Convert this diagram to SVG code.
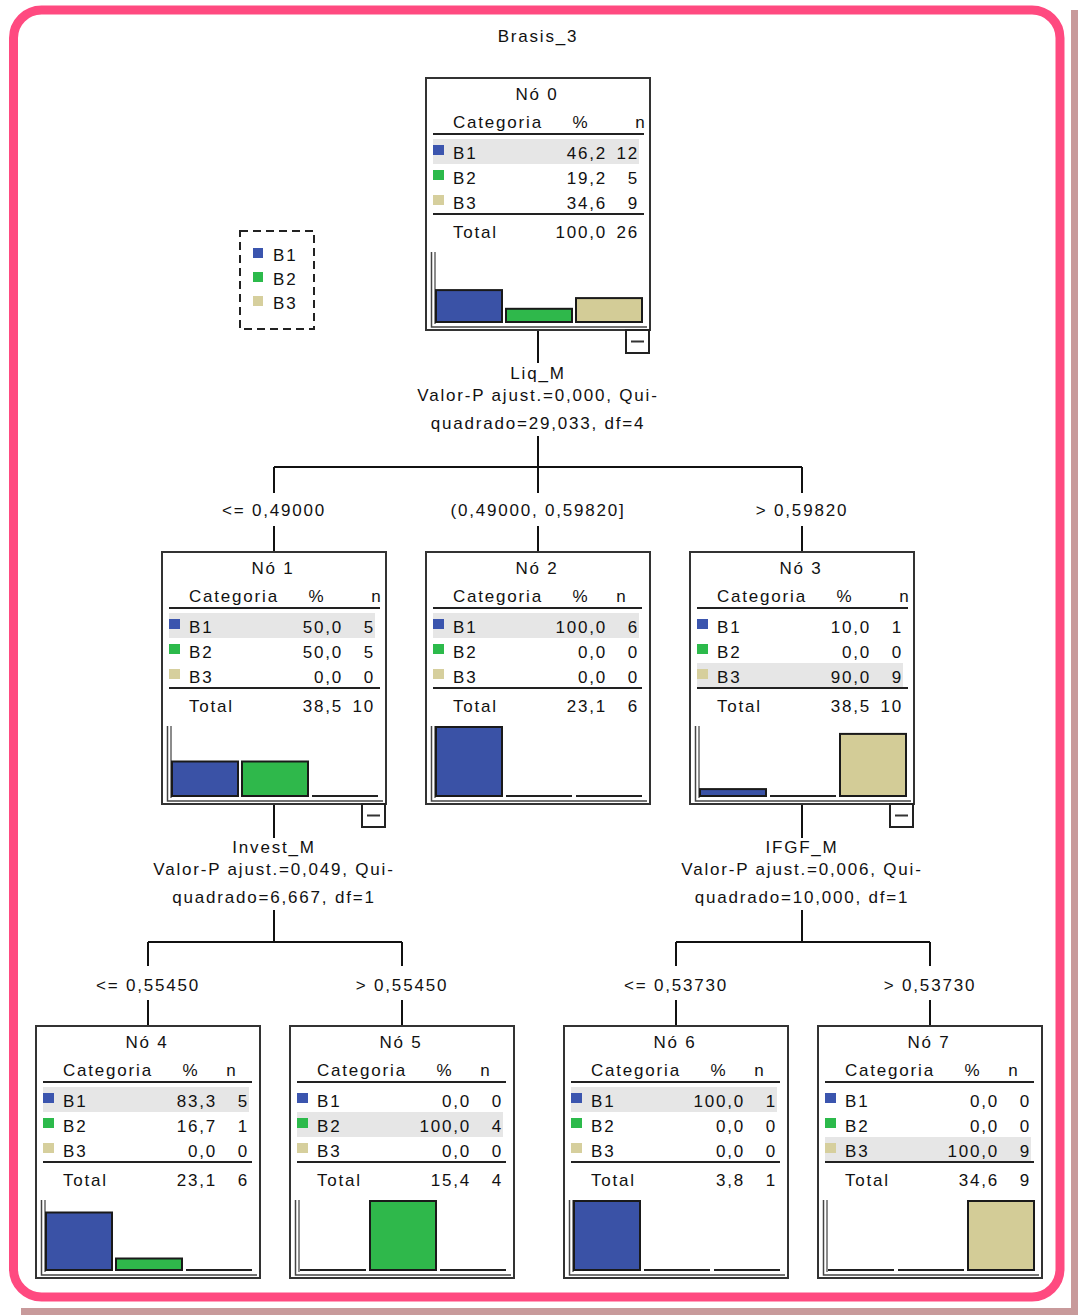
<svg xmlns="http://www.w3.org/2000/svg" width="1078" height="1315" viewBox="0 0 1078 1315">
<style>
.t{font-family:"Liberation Sans",Arial,sans-serif;font-size:17px;letter-spacing:1.8px;fill:#111}
.m{text-anchor:middle}
.e{text-anchor:end}
.box{fill:#fff;stroke:#333;stroke-width:2}
.hl{stroke:#222;stroke-width:2}
.hi{fill:#e6e6e6}
.c1{fill:#3b55ae}
.c2{fill:#2cba4b}
.c3{fill:#d6cf9d}
.b1{fill:#3a52a6;stroke:#1a1a1a;stroke-width:2}
.b2{fill:#2fb84b;stroke:#1a1a1a;stroke-width:2}
.b3{fill:#d3cc97;stroke:#1a1a1a;stroke-width:2}
.ax{fill:none;stroke:#444;stroke-width:1.5}
.ax2{fill:none;stroke:#666;stroke-width:1.5}
.el{stroke:#333;stroke-width:2}
.cb{fill:#fff;stroke:#222;stroke-width:2}
.cn{fill:none;stroke:#111;stroke-width:2}
</style>
<rect x="1071" y="10" width="7" height="1305" fill="#c89a9b"/>
<rect x="21" y="1308" width="1057" height="7" fill="#c89a9b"/>
<rect x="13.5" y="10" width="1046.5" height="1287" rx="28" fill="#fff" stroke="#ff4a80" stroke-width="9"/>
<text class="t m" x="538" y="42">Brasis_3</text>
<g id="legend">
<rect x="240" y="231" width="74" height="98" fill="none" stroke="#222" stroke-width="2" stroke-dasharray="8,5"/>
<rect class="c1" x="253" y="248" width="10" height="10"/>
<text class="t" x="273" y="261">B1</text>
<rect class="c2" x="253" y="272" width="10" height="10"/>
<text class="t" x="273" y="285">B2</text>
<rect class="c3" x="253" y="296" width="10" height="10"/>
<text class="t" x="273" y="309">B3</text>
</g>
<g id="connectors">
<path class="cn" d="M538 330V363M538 436V467M274 467H802M274 467V493M538 467V493M802 467V493M274 526V552M538 526V552M802 526V552"/>
<path class="cn" d="M274 804V838M274 910V942M148 942H402M148 942V966M402 942V966M148 1000V1026M402 1000V1026"/>
<path class="cn" d="M802 804V838M802 910V942M676 942H930M676 942V966M930 942V966M676 1000V1026M930 1000V1026"/>
<text class="t m" x="538" y="379">Liq_M</text>
<text class="t m" x="538" y="401">Valor-P ajust.=0,000, Qui-</text>
<text class="t m" x="538" y="429">quadrado=29,033, df=4</text>
<text class="t m" x="274" y="516">&lt;= 0,49000</text>
<text class="t m" x="538" y="516">(0,49000, 0,59820]</text>
<text class="t m" x="802" y="516">&gt; 0,59820</text>
<text class="t m" x="274" y="853">Invest_M</text>
<text class="t m" x="274" y="875">Valor-P ajust.=0,049, Qui-</text>
<text class="t m" x="274" y="903">quadrado=6,667, df=1</text>
<text class="t m" x="148" y="991">&lt;= 0,55450</text>
<text class="t m" x="402" y="991">&gt; 0,55450</text>
<text class="t m" x="802" y="853">IFGF_M</text>
<text class="t m" x="802" y="875">Valor-P ajust.=0,006, Qui-</text>
<text class="t m" x="802" y="903">quadrado=10,000, df=1</text>
<text class="t m" x="676" y="991">&lt;= 0,53730</text>
<text class="t m" x="930" y="991">&gt; 0,53730</text>
</g>

<g id="node0" transform="translate(426,78)">
<rect class="box" x="0" y="0" width="224" height="252"/>
<text class="t m" x="111" y="22">Nó 0</text>
<text class="t" x="27" y="50">Categoria</text><text class="t m" x="155" y="50">%</text><text class="t m" x="215" y="50">n</text>
<line class="hl" x1="7" y1="56" x2="218" y2="56"/>
<rect class="hi" x="7" y="61" width="206" height="25"/>
<rect class="c1" x="7" y="67" width="11" height="10"/><text class="t" x="27" y="81">B1</text><text class="t e" x="181" y="81">46,2</text><text class="t e" x="213" y="81">12</text>
<rect class="c2" x="7" y="92" width="11" height="10"/><text class="t" x="27" y="106">B2</text><text class="t e" x="181" y="106">19,2</text><text class="t e" x="213" y="106">5</text>
<rect class="c3" x="7" y="117" width="11" height="10"/><text class="t" x="27" y="131">B3</text><text class="t e" x="181" y="131">34,6</text><text class="t e" x="213" y="131">9</text>
<line class="hl" x1="7" y1="136" x2="218" y2="136"/>
<text class="t" x="27" y="160">Total</text><text class="t e" x="181" y="160">100,0</text><text class="t e" x="213" y="160">26</text>
<path class="ax" d="M5.5 174V249H221"/><path class="ax2" d="M9 174V246"/>
<rect class="b1" x="10" y="212.1" width="66" height="31.9"/>
<rect class="b2" x="80" y="230.8" width="66" height="13.2"/>
<rect class="b3" x="150" y="220.1" width="66" height="23.9"/>
<rect class="cb" x="200" y="252" width="23" height="23"/><line class="el" x1="205" y1="263.5" x2="218" y2="263.5"/>
</g>

<g id="node1" transform="translate(162,552)">
<rect class="box" x="0" y="0" width="224" height="252"/>
<text class="t m" x="111" y="22">Nó 1</text>
<text class="t" x="27" y="50">Categoria</text><text class="t m" x="155" y="50">%</text><text class="t m" x="215" y="50">n</text>
<line class="hl" x1="7" y1="56" x2="218" y2="56"/>
<rect class="hi" x="7" y="61" width="206" height="25"/>
<rect class="c1" x="7" y="67" width="11" height="10"/><text class="t" x="27" y="81">B1</text><text class="t e" x="181" y="81">50,0</text><text class="t e" x="213" y="81">5</text>
<rect class="c2" x="7" y="92" width="11" height="10"/><text class="t" x="27" y="106">B2</text><text class="t e" x="181" y="106">50,0</text><text class="t e" x="213" y="106">5</text>
<rect class="c3" x="7" y="117" width="11" height="10"/><text class="t" x="27" y="131">B3</text><text class="t e" x="181" y="131">0,0</text><text class="t e" x="213" y="131">0</text>
<line class="hl" x1="7" y1="136" x2="218" y2="136"/>
<text class="t" x="27" y="160">Total</text><text class="t e" x="181" y="160">38,5</text><text class="t e" x="213" y="160">10</text>
<path class="ax" d="M5.5 174V249H221"/><path class="ax2" d="M9 174V246"/>
<rect class="b1" x="10" y="209.5" width="66" height="34.5"/>
<rect class="b2" x="80" y="209.5" width="66" height="34.5"/>
<line class="hl" x1="150" y1="244" x2="216" y2="244"/>
<rect class="cb" x="200" y="252" width="23" height="23"/><line class="el" x1="205" y1="263.5" x2="218" y2="263.5"/>
</g>

<g id="node2" transform="translate(426,552)">
<rect class="box" x="0" y="0" width="224" height="252"/>
<text class="t m" x="111" y="22">Nó 2</text>
<text class="t" x="27" y="50">Categoria</text><text class="t m" x="155" y="50">%</text><text class="t m" x="196" y="50">n</text>
<line class="hl" x1="7" y1="56" x2="216" y2="56"/>
<rect class="hi" x="7" y="61" width="206" height="25"/>
<rect class="c1" x="7" y="67" width="11" height="10"/><text class="t" x="27" y="81">B1</text><text class="t e" x="181" y="81">100,0</text><text class="t e" x="213" y="81">6</text>
<rect class="c2" x="7" y="92" width="11" height="10"/><text class="t" x="27" y="106">B2</text><text class="t e" x="181" y="106">0,0</text><text class="t e" x="213" y="106">0</text>
<rect class="c3" x="7" y="117" width="11" height="10"/><text class="t" x="27" y="131">B3</text><text class="t e" x="181" y="131">0,0</text><text class="t e" x="213" y="131">0</text>
<line class="hl" x1="7" y1="136" x2="216" y2="136"/>
<text class="t" x="27" y="160">Total</text><text class="t e" x="181" y="160">23,1</text><text class="t e" x="213" y="160">6</text>
<path class="ax" d="M5.5 174V249H221"/><path class="ax2" d="M9 174V246"/>
<rect class="b1" x="10" y="175" width="66" height="69"/>
<line class="hl" x1="80" y1="244" x2="146" y2="244"/>
<line class="hl" x1="150" y1="244" x2="216" y2="244"/>
</g>

<g id="node3" transform="translate(690,552)">
<rect class="box" x="0" y="0" width="224" height="252"/>
<text class="t m" x="111" y="22">Nó 3</text>
<text class="t" x="27" y="50">Categoria</text><text class="t m" x="155" y="50">%</text><text class="t m" x="215" y="50">n</text>
<line class="hl" x1="7" y1="56" x2="218" y2="56"/>
<rect class="hi" x="7" y="111" width="206" height="25"/>
<rect class="c1" x="7" y="67" width="11" height="10"/><text class="t" x="27" y="81">B1</text><text class="t e" x="181" y="81">10,0</text><text class="t e" x="213" y="81">1</text>
<rect class="c2" x="7" y="92" width="11" height="10"/><text class="t" x="27" y="106">B2</text><text class="t e" x="181" y="106">0,0</text><text class="t e" x="213" y="106">0</text>
<rect class="c3" x="7" y="117" width="11" height="10"/><text class="t" x="27" y="131">B3</text><text class="t e" x="181" y="131">90,0</text><text class="t e" x="213" y="131">9</text>
<line class="hl" x1="7" y1="136" x2="218" y2="136"/>
<text class="t" x="27" y="160">Total</text><text class="t e" x="181" y="160">38,5</text><text class="t e" x="213" y="160">10</text>
<path class="ax" d="M5.5 174V249H221"/><path class="ax2" d="M9 174V246"/>
<rect class="b1" x="10" y="237.1" width="66" height="6.9"/>
<line class="hl" x1="80" y1="244" x2="146" y2="244"/>
<rect class="b3" x="150" y="181.9" width="66" height="62.1"/>
<rect class="cb" x="200" y="252" width="23" height="23"/><line class="el" x1="205" y1="263.5" x2="218" y2="263.5"/>
</g>

<g id="node4" transform="translate(36,1026)">
<rect class="box" x="0" y="0" width="224" height="252"/>
<text class="t m" x="111" y="22">Nó 4</text>
<text class="t" x="27" y="50">Categoria</text><text class="t m" x="155" y="50">%</text><text class="t m" x="196" y="50">n</text>
<line class="hl" x1="7" y1="56" x2="216" y2="56"/>
<rect class="hi" x="7" y="61" width="206" height="25"/>
<rect class="c1" x="7" y="67" width="11" height="10"/><text class="t" x="27" y="81">B1</text><text class="t e" x="181" y="81">83,3</text><text class="t e" x="213" y="81">5</text>
<rect class="c2" x="7" y="92" width="11" height="10"/><text class="t" x="27" y="106">B2</text><text class="t e" x="181" y="106">16,7</text><text class="t e" x="213" y="106">1</text>
<rect class="c3" x="7" y="117" width="11" height="10"/><text class="t" x="27" y="131">B3</text><text class="t e" x="181" y="131">0,0</text><text class="t e" x="213" y="131">0</text>
<line class="hl" x1="7" y1="136" x2="216" y2="136"/>
<text class="t" x="27" y="160">Total</text><text class="t e" x="181" y="160">23,1</text><text class="t e" x="213" y="160">6</text>
<path class="ax" d="M5.5 174V249H221"/><path class="ax2" d="M9 174V246"/>
<rect class="b1" x="10" y="186.5" width="66" height="57.5"/>
<rect class="b2" x="80" y="232.5" width="66" height="11.5"/>
<line class="hl" x1="150" y1="244" x2="216" y2="244"/>
</g>

<g id="node5" transform="translate(290,1026)">
<rect class="box" x="0" y="0" width="224" height="252"/>
<text class="t m" x="111" y="22">Nó 5</text>
<text class="t" x="27" y="50">Categoria</text><text class="t m" x="155" y="50">%</text><text class="t m" x="196" y="50">n</text>
<line class="hl" x1="7" y1="56" x2="216" y2="56"/>
<rect class="hi" x="7" y="86" width="206" height="25"/>
<rect class="c1" x="7" y="67" width="11" height="10"/><text class="t" x="27" y="81">B1</text><text class="t e" x="181" y="81">0,0</text><text class="t e" x="213" y="81">0</text>
<rect class="c2" x="7" y="92" width="11" height="10"/><text class="t" x="27" y="106">B2</text><text class="t e" x="181" y="106">100,0</text><text class="t e" x="213" y="106">4</text>
<rect class="c3" x="7" y="117" width="11" height="10"/><text class="t" x="27" y="131">B3</text><text class="t e" x="181" y="131">0,0</text><text class="t e" x="213" y="131">0</text>
<line class="hl" x1="7" y1="136" x2="216" y2="136"/>
<text class="t" x="27" y="160">Total</text><text class="t e" x="181" y="160">15,4</text><text class="t e" x="213" y="160">4</text>
<path class="ax" d="M5.5 174V249H221"/><path class="ax2" d="M9 174V246"/>
<line class="hl" x1="10" y1="244" x2="76" y2="244"/>
<rect class="b2" x="80" y="175" width="66" height="69"/>
<line class="hl" x1="150" y1="244" x2="216" y2="244"/>
</g>

<g id="node6" transform="translate(564,1026)">
<rect class="box" x="0" y="0" width="224" height="252"/>
<text class="t m" x="111" y="22">Nó 6</text>
<text class="t" x="27" y="50">Categoria</text><text class="t m" x="155" y="50">%</text><text class="t m" x="196" y="50">n</text>
<line class="hl" x1="7" y1="56" x2="216" y2="56"/>
<rect class="hi" x="7" y="61" width="206" height="25"/>
<rect class="c1" x="7" y="67" width="11" height="10"/><text class="t" x="27" y="81">B1</text><text class="t e" x="181" y="81">100,0</text><text class="t e" x="213" y="81">1</text>
<rect class="c2" x="7" y="92" width="11" height="10"/><text class="t" x="27" y="106">B2</text><text class="t e" x="181" y="106">0,0</text><text class="t e" x="213" y="106">0</text>
<rect class="c3" x="7" y="117" width="11" height="10"/><text class="t" x="27" y="131">B3</text><text class="t e" x="181" y="131">0,0</text><text class="t e" x="213" y="131">0</text>
<line class="hl" x1="7" y1="136" x2="216" y2="136"/>
<text class="t" x="27" y="160">Total</text><text class="t e" x="181" y="160">3,8</text><text class="t e" x="213" y="160">1</text>
<path class="ax" d="M5.5 174V249H221"/><path class="ax2" d="M9 174V246"/>
<rect class="b1" x="10" y="175" width="66" height="69"/>
<line class="hl" x1="80" y1="244" x2="146" y2="244"/>
<line class="hl" x1="150" y1="244" x2="216" y2="244"/>
</g>

<g id="node7" transform="translate(818,1026)">
<rect class="box" x="0" y="0" width="224" height="252"/>
<text class="t m" x="111" y="22">Nó 7</text>
<text class="t" x="27" y="50">Categoria</text><text class="t m" x="155" y="50">%</text><text class="t m" x="196" y="50">n</text>
<line class="hl" x1="7" y1="56" x2="216" y2="56"/>
<rect class="hi" x="7" y="111" width="206" height="25"/>
<rect class="c1" x="7" y="67" width="11" height="10"/><text class="t" x="27" y="81">B1</text><text class="t e" x="181" y="81">0,0</text><text class="t e" x="213" y="81">0</text>
<rect class="c2" x="7" y="92" width="11" height="10"/><text class="t" x="27" y="106">B2</text><text class="t e" x="181" y="106">0,0</text><text class="t e" x="213" y="106">0</text>
<rect class="c3" x="7" y="117" width="11" height="10"/><text class="t" x="27" y="131">B3</text><text class="t e" x="181" y="131">100,0</text><text class="t e" x="213" y="131">9</text>
<line class="hl" x1="7" y1="136" x2="216" y2="136"/>
<text class="t" x="27" y="160">Total</text><text class="t e" x="181" y="160">34,6</text><text class="t e" x="213" y="160">9</text>
<path class="ax" d="M5.5 174V249H221"/><path class="ax2" d="M9 174V246"/>
<line class="hl" x1="10" y1="244" x2="76" y2="244"/>
<line class="hl" x1="80" y1="244" x2="146" y2="244"/>
<rect class="b3" x="150" y="175" width="66" height="69"/>
</g>
</svg>
